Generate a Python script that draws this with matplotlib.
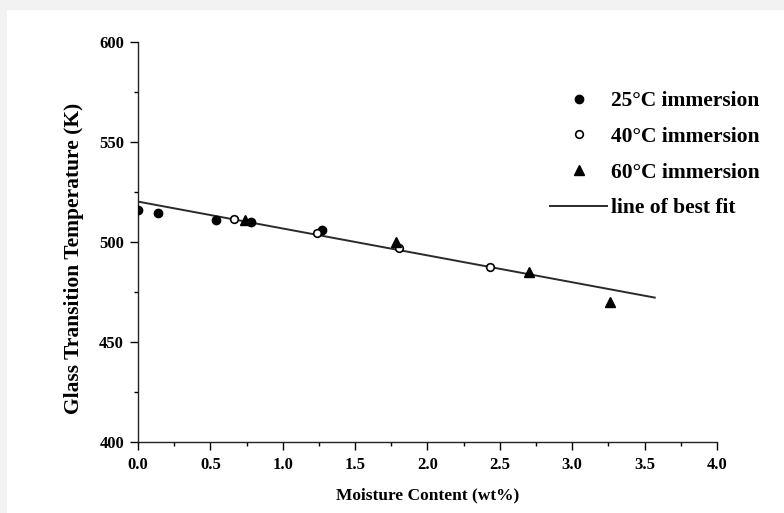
import matplotlib
matplotlib.use("Agg")
import matplotlib.pyplot as plt
from matplotlib.patches import Rectangle
from matplotlib.ticker import MultipleLocator

plt.rcParams['font.family'] = ['Liberation Serif', 'DejaVu Serif']
plt.rcParams['font.weight'] = 'bold'

# Data
x25 = [0.0, 0.14, 0.54, 0.78, 1.27]
y25 = [516.0, 514.5, 511.0, 510.0, 506.0]
x40 = [0.66, 1.24, 1.80, 2.43]
y40 = [511.5, 504.3, 496.8, 487.3]
x60 = [0.74, 1.78, 2.70, 3.26]
y60 = [511.2, 500.2, 485.2, 470.2]
fit_x = [0.0, 3.57]
fit_y = [520.2, 472.2]

xticks = [0.0, 0.5, 1.0, 1.5, 2.0, 2.5, 3.0, 3.5, 4.0]
yticks = [400, 450, 500, 550, 600]

fig = plt.figure(figsize=(7.84, 5.13), dpi=100, facecolor='#f2f2f2')
bg = Rectangle((7/784, 0), 777/784, 503/513, transform=fig.transFigure,
               facecolor='white', edgecolor='none', zorder=-10)
fig.add_artist(bg)
ax = fig.add_axes([138/784, 71/513, 579/784, 400/513])
ax.set_zorder(1)
ax.patch.set_alpha(0)

ax.plot(fit_x, fit_y, color='#2a2a2a', lw=1.4, label='line of best fit', zorder=2)
ax.plot(x25, y25, 'o', color='black', ms=6, label='25°C immersion', zorder=3)
ax.plot(x40, y40, 'o', mfc='white', mec='black', mew=1.2, ms=5.5, label='40°C immersion', zorder=3)
ax.plot(x60, y60, '^', color='black', ms=6.5, label='60°C immersion', zorder=3)

ax.set_xlim(0, 4.0)
ax.set_ylim(400, 600)
ax.set_xticks(xticks)
ax.set_yticks(yticks)
ax.set_xticklabels([f'{v:.1f}' for v in xticks])
ax.xaxis.set_minor_locator(MultipleLocator(0.25))
ax.yaxis.set_minor_locator(MultipleLocator(25))
ax.tick_params(which='major', direction='out', length=6, width=1, labelsize=12)
ax.tick_params(axis='x', which='major', pad=5)
ax.tick_params(axis='y', which='major', pad=4)
ax.tick_params(which='minor', direction='out', length=3, width=1)
for s in ['top', 'right']:
    ax.spines[s].set_visible(False)
for s in ['left', 'bottom']:
    ax.spines[s].set_linewidth(1)
    ax.spines[s].set_color('#222222')
for lab in ax.get_xticklabels() + ax.get_yticklabels():
    lab.set_fontweight('bold')

ax.set_xlabel('Moisture Content (wt%)', fontsize=12.5, fontweight='bold', labelpad=10)
ax.set_ylabel('Glass Transition Temperature (K)', fontsize=15.5, fontweight='bold')
ax.yaxis.set_label_coords(-0.093, 0.46)

h, l = ax.get_legend_handles_labels()
order = [1, 2, 3, 0]
ax.legend([h[i] for i in order], [l[i] for i in order], loc='upper left',
          bbox_to_anchor=(550/784, (513-91)/513), bbox_transform=fig.transFigure,
          frameon=False, prop={'weight': 'bold', 'size': 15.5},
          labelspacing=0.73, handlelength=2.65, handletextpad=0.2,
          borderpad=0, borderaxespad=0)

fig.savefig('out.png', dpi=100, facecolor=fig.get_facecolor())
